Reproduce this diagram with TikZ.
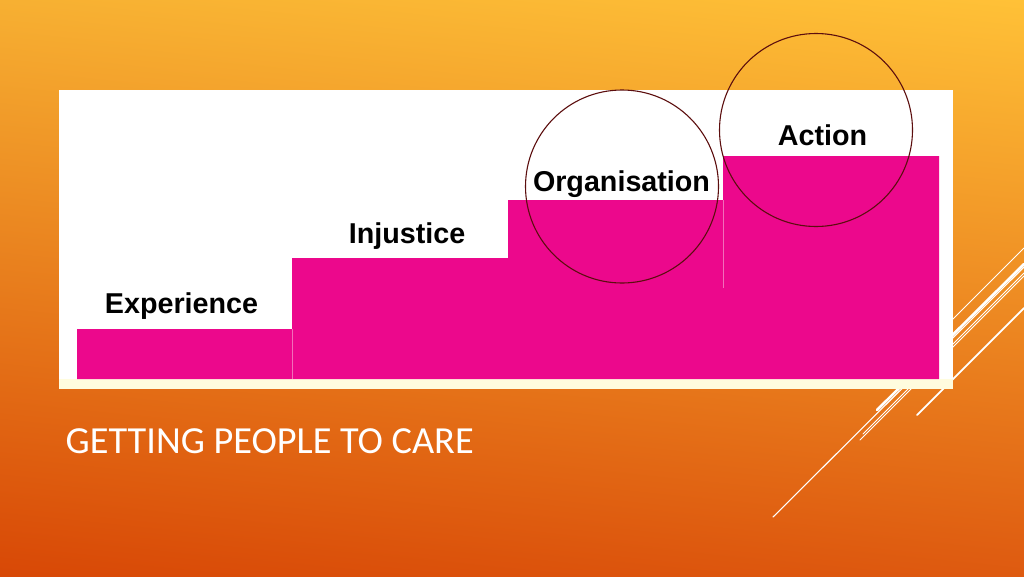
\documentclass[tikz,border=0pt]{standalone}
\usepackage{fontspec}
\usetikzlibrary{shadings}
\newfontfamily\labfont{Liberation Sans}
\newfontfamily\titlefont{Carlito}
\definecolor{bgTL}{RGB}{247,176,50}
\definecolor{bgTR}{RGB}{255,193,55}
\definecolor{bgBL}{RGB}{216,72,6}
\definecolor{bgBR}{RGB}{222,90,16}
\definecolor{stepPink}{RGB}{236,8,140}
\definecolor{cream}{RGB}{255,252,222}
\definecolor{ringcol}{RGB}{92,14,14}
\definecolor{seam}{RGB}{242,110,185}
\tikzset{
  steplabel/.style={font=\labfont\bfseries\fontsize{28.7}{34}\selectfont, text=black, anchor=base, inner sep=0pt},
  ring/.style={draw=ringcol, line width=1.1pt, circle, minimum size=193pt, inner sep=0pt},
  deco/.style={draw=white, line cap=round},
  stepfill/.style={fill=stepPink, draw=none}
}
\begin{document}
\begin{tikzpicture}[x=1pt,y=-1pt]
\useasboundingbox (0,0) rectangle (1024,576);
\shade[upper left=bgTL, upper right=bgTR, lower left=bgBL, lower right=bgBR] (0,0) rectangle (1024,576);
% decorative lines
\coordinate (l1a) at (900,372); \coordinate (l1b) at (1024,248);
\coordinate (l2a) at (877,410); \coordinate (l2b) at (1024,264);
\coordinate (l3a) at (773,517); \coordinate (l3b) at (1024,267);
\coordinate (l4a) at (863,434); \coordinate (l4b) at (1024,273);
\coordinate (l5a) at (860,440); \coordinate (l5b) at (1024,276);
\coordinate (l6a) at (917,415); \coordinate (l6b) at (1024,308);
\draw[deco, line width=0.9pt] (l1a) -- (l1b);
\draw[deco, line width=2.6pt] (l2a) -- (l2b);
\draw[deco, line width=1.1pt] (l3a) -- (l3b);
\draw[deco, line width=0.8pt] (l4a) -- (l4b);
\draw[deco, line width=0.8pt] (l5a) -- (l5b);
\draw[deco, line width=1.8pt] (l6a) -- (l6b);
% panel
\fill[cream] (59,90) rectangle (953,389);
\fill[white] (59,90) rectangle (953,379);
% steps
\fill[stepfill] (77,379) -- (77,329) -- (292,329) -- (292,258) -- (508,258) -- (508,200) -- (723,200) -- (723,156) -- (939,156) -- (939,379) -- cycle;
\draw[seam, line width=0.5pt] (292,329) -- (292,379);
\draw[seam, line width=0.5pt] (723,200) -- (723,288);
% labels
\node[steplabel] (exp) at (181.5,313) {Experience};
\node[steplabel] (inj) at (407,243) {Injustice};
\node[steplabel] (org) at (621.5,191) {Organisation};
\node[steplabel] (act) at (822.5,145) {Action};
% rings
\node[ring] (ring1) at (622,186.5) {};
\node[ring] (ring2) at (816,130) {};
% title
\node[font=\titlefont\fontsize{38.3}{44}\selectfont, text=white, anchor=base west, inner sep=0pt] (title) at (65.5,453) {GETTING PEOPLE TO CARE};
\end{tikzpicture}
\end{document}
